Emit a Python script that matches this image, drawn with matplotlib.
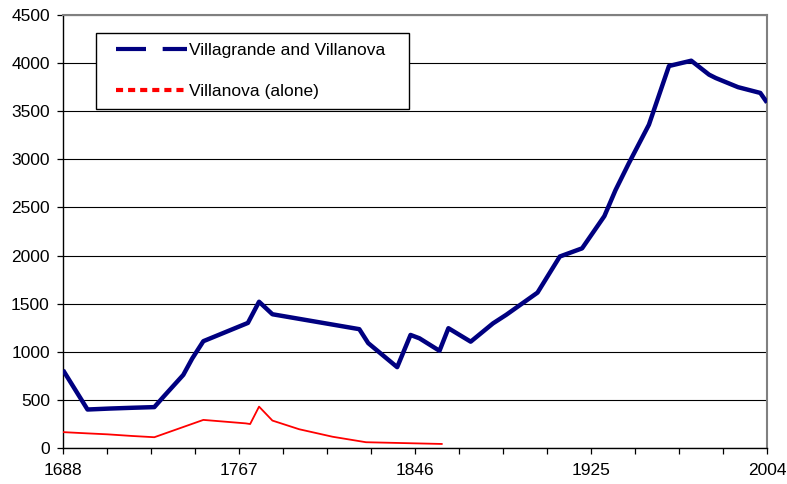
import numpy as np
import matplotlib.pyplot as plt
from matplotlib.lines import Line2D
from matplotlib.legend_handler import HandlerLine2D

plt.rcParams['font.family'] = ['Liberation Sans', 'DejaVu Sans']

# Villagrande + Villanova (anni, abitanti)
anni_vv = [1688, 1699, 1709, 1719, 1729, 1733, 1742, 1746, 1751, 1771, 1776, 1782,
           1821, 1825, 1838, 1844, 1848, 1857, 1861, 1871, 1881, 1887, 1901, 1911,
           1921, 1931, 1936, 1942, 1951, 1960, 1970, 1978, 1981, 1991, 2001, 2004]
pop_vv = [810, 400, 410, 418, 425, 530, 760, 930, 1110, 1300, 1520, 1390,
          1235, 1090, 840, 1175, 1140, 1010, 1245, 1105, 1295, 1385, 1615, 1990,
          2075, 2410, 2680, 2960, 3360, 3970, 4025, 3880, 3845, 3750, 3690, 3590]

# Villanova da sola
anni_v = [1688, 1699, 1708, 1719, 1729, 1751, 1770, 1772, 1776, 1782, 1794, 1809, 1824, 1858]
pop_v = [165, 152, 142, 125, 112, 292, 256, 249, 430, 285, 195, 117, 60, 42]

etichette_x = [1688, 1767, 1846, 1925, 2004]
etichette_y = list(range(0, 4501, 500))
nome_vv = 'Villagrande and Villanova'
nome_v = 'Villanova (alone)'

blu = '#000080'
rosso = '#ff0000'

fig = plt.figure(figsize=(7.87, 4.84), dpi=100)
ax = fig.add_axes([63/787, 36/484, 704/787, 433/484])

ax.plot(anni_vv, pop_vv, color=blu, lw=3.2, solid_joinstyle='round', solid_capstyle='butt', zorder=3)
ax.plot(anni_v, pop_v, color=rosso, lw=1.3, zorder=3)

ax.set_xlim(1688, 2004)
ax.set_ylim(0, 4500)
ax.set_yticks(etichette_y)
ax.set_xticks(etichette_x)
ax.set_xticks(np.linspace(1688, 2004, 17), minor=True)
ax.grid(axis='y', color='black', lw=0.8)
ax.set_axisbelow(True)

ax.tick_params(axis='both', which='both', direction='out', length=4, width=0.9,
               labelsize=12.5, color='black')
ax.tick_params(axis='x', which='both', pad=6.5)
ax.tick_params(axis='y', pad=5.5)

for s in ['top', 'right']:
    ax.spines[s].set_color('#808080')
    ax.spines[s].set_linewidth(1.5)
for s in ['left', 'bottom']:
    ax.spines[s].set_color('black')
    ax.spines[s].set_linewidth(1.0)

# legenda come in Excel: linee tratteggiate / punteggiate
h1 = Line2D([], [], color=blu, lw=3.0, dashes=[7.2, 4.0], dash_capstyle='butt')
h2 = Line2D([], [], color=rosso, lw=3.0, dashes=[1.7, 1.2], dash_capstyle='butt')
hm = HandlerLine2D(xpad=0.57)
leg = ax.legend([h1, h2], [nome_vv + '   ', nome_v], loc='upper left',
                bbox_to_anchor=(0.047, 0.958), borderaxespad=0, fontsize=12.5,
                handlelength=4.7, handletextpad=0.1, labelspacing=1.5,
                borderpad=0.55, fancybox=False, framealpha=1, edgecolor='black',
                handler_map={h1: hm, h2: hm})
leg.get_frame().set_linewidth(1.0)
leg.set_zorder(5)

plt.savefig('out.png', dpi=100)
